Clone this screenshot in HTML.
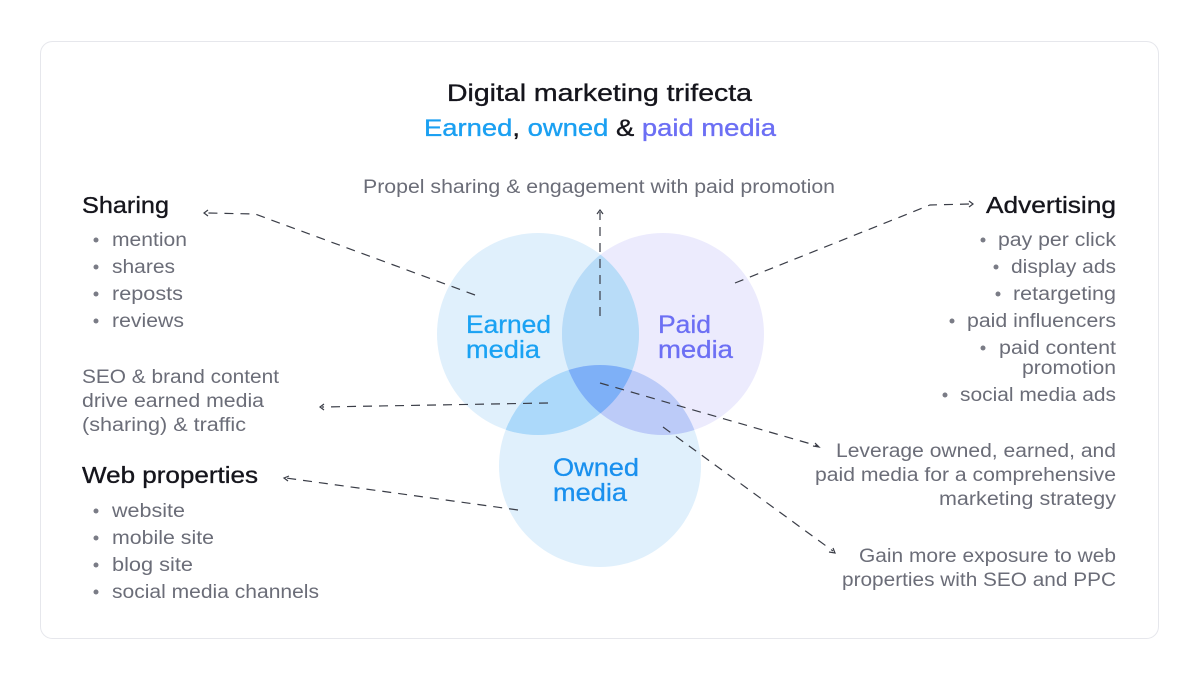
<!DOCTYPE html>
<html><head><meta charset="utf-8"><style>
html,body{margin:0;padding:0;background:#fff;}
svg{display:block;font-family:"Liberation Sans",sans-serif;}
.h{font-size:23px;fill:#15151c;stroke:#15151c;stroke-width:0.35;}
.t{font-size:19px;fill:#6b6d78;}
.c{font-size:25px;stroke-width:0.3;}
.d{stroke:#3a3d47;stroke-width:1.2;stroke-dasharray:9 7;fill:none;}
.a{stroke:#3a3d47;stroke-width:1.2;fill:none;}
</style></head><body>
<svg width="1200" height="681" viewBox="0 0 1200 681">
<rect x="40.5" y="41.5" width="1118" height="597" rx="12" fill="#fff" stroke="#e6e7ec"/>
<text x="447" y="101" textLength="305" lengthAdjust="spacingAndGlyphs" class="h" style="font-size:24px">Digital marketing trifecta</text>
<text x="424" y="136" textLength="352" lengthAdjust="spacingAndGlyphs" style="font-size:24px;stroke-width:0.35"><tspan fill="#1ba0f2" stroke="#1ba0f2">Earned</tspan><tspan fill="#15151c" stroke="#15151c">, </tspan><tspan fill="#1ba0f2" stroke="#1ba0f2">owned</tspan><tspan fill="#15151c" stroke="#15151c"> &amp; </tspan><tspan fill="#6c6ff4" stroke="#6c6ff4">paid media</tspan></text>
<text x="363" y="193" textLength="472" lengthAdjust="spacingAndGlyphs" class="t">Propel sharing &amp; engagement with paid promotion</text>

<circle cx="538" cy="334" r="101" fill="rgb(70,165,240)" fill-opacity="0.17"/>
<circle cx="663" cy="334" r="101" fill="rgb(130,120,240)" fill-opacity="0.15"/>
<circle cx="600" cy="466" r="101" fill="rgb(70,165,240)" fill-opacity="0.17"/>
<clipPath id="ce"><circle cx="538" cy="334" r="101"/></clipPath>
<clipPath id="cp"><circle cx="663" cy="334" r="101"/></clipPath>
<circle cx="663" cy="334" r="101" fill="#b8dcf8" clip-path="url(#ce)"/>
<circle cx="600" cy="466" r="101" fill="#acd9fa" clip-path="url(#ce)"/>
<circle cx="600" cy="466" r="101" fill="#bccbf8" clip-path="url(#cp)"/>
<g clip-path="url(#ce)"><circle cx="600" cy="466" r="101" fill="#7eb0f7" clip-path="url(#cp)"/></g>

<text x="466" y="333" textLength="85" lengthAdjust="spacingAndGlyphs" class="c" fill="#1aa2f3" stroke="#1aa2f3">Earned</text>
<text x="466" y="358" textLength="74" lengthAdjust="spacingAndGlyphs" class="c" fill="#1aa2f3" stroke="#1aa2f3">media</text>
<text x="658" y="333" textLength="53" lengthAdjust="spacingAndGlyphs" class="c" fill="#6c6ff4" stroke="#6c6ff4">Paid</text>
<text x="658" y="358" textLength="75" lengthAdjust="spacingAndGlyphs" class="c" fill="#6c6ff4" stroke="#6c6ff4">media</text>
<text x="553" y="476" textLength="86" lengthAdjust="spacingAndGlyphs" class="c" fill="#1a90ee" stroke="#1a90ee">Owned</text>
<text x="553" y="501" textLength="74" lengthAdjust="spacingAndGlyphs" class="c" fill="#1a90ee" stroke="#1a90ee">media</text>

<path class="d" d="M475 295 L255 214 L208 213"/>
<path class="a" d="M208 210 L204 213 L208 216"/>
<path class="d" d="M600 316 L600 212"/>
<path class="a" d="M597 214 L600 210 L603 214"/>
<path class="d" d="M735 283 L930 205 L970 204"/>
<path class="a" d="M969 201 L973 204 L969 207"/>
<path class="d" d="M548 403 L322 407"/>
<path class="a" d="M324 404 L320 407 L324 410"/>
<path class="d" d="M518 510 L286 478"/>
<path class="a" d="M289 476 L284 478 L288 481"/>
<path class="d" d="M600 383 L818 446"/>
<path class="a" d="M813 446 L819 447 L815 443"/>
<path class="d" d="M663 427 L833 551"/>
<path class="a" d="M829 552 L835 553 L833 548"/>

<text x="82" y="213" textLength="87" lengthAdjust="spacingAndGlyphs" class="h">Sharing</text>
<text x="112" y="246" textLength="75" lengthAdjust="spacingAndGlyphs" class="t">mention</text>
<text x="112" y="273" textLength="63" lengthAdjust="spacingAndGlyphs" class="t">shares</text>
<text x="112" y="300" textLength="71" lengthAdjust="spacingAndGlyphs" class="t">reposts</text>
<text x="112" y="327" textLength="72" lengthAdjust="spacingAndGlyphs" class="t">reviews</text>
<g fill="#7a7c86"><circle cx="96" cy="240" r="2.5"/><circle cx="96" cy="267" r="2.5"/><circle cx="96" cy="294" r="2.5"/><circle cx="96" cy="321" r="2.5"/></g>
<text x="82" y="383" textLength="197" lengthAdjust="spacingAndGlyphs" class="t">SEO &amp; brand content</text>
<text x="82" y="407" textLength="182" lengthAdjust="spacingAndGlyphs" class="t">drive earned media</text>
<text x="82" y="431" textLength="164" lengthAdjust="spacingAndGlyphs" class="t">(sharing) &amp; traffic</text>
<text x="82" y="483" textLength="176" lengthAdjust="spacingAndGlyphs" class="h">Web properties</text>
<text x="112" y="517" textLength="73" lengthAdjust="spacingAndGlyphs" class="t">website</text>
<text x="112" y="544" textLength="102" lengthAdjust="spacingAndGlyphs" class="t">mobile site</text>
<text x="112" y="571" textLength="81" lengthAdjust="spacingAndGlyphs" class="t">blog site</text>
<text x="112" y="598" textLength="207" lengthAdjust="spacingAndGlyphs" class="t">social media channels</text>
<g fill="#7a7c86"><circle cx="96" cy="511" r="2.5"/><circle cx="96" cy="538" r="2.5"/><circle cx="96" cy="565" r="2.5"/><circle cx="96" cy="592" r="2.5"/></g>

<text x="986" y="213" textLength="130" lengthAdjust="spacingAndGlyphs" class="h">Advertising</text>
<text x="998" y="246" textLength="118" lengthAdjust="spacingAndGlyphs" class="t">pay per click</text>
<text x="1011" y="273" textLength="105" lengthAdjust="spacingAndGlyphs" class="t">display ads</text>
<text x="1013" y="300" textLength="103" lengthAdjust="spacingAndGlyphs" class="t">retargeting</text>
<text x="967" y="327" textLength="149" lengthAdjust="spacingAndGlyphs" class="t">paid influencers</text>
<text x="999" y="354" textLength="117" lengthAdjust="spacingAndGlyphs" class="t">paid content</text>
<text x="1022" y="374" textLength="94" lengthAdjust="spacingAndGlyphs" class="t">promotion</text>
<text x="960" y="401" textLength="156" lengthAdjust="spacingAndGlyphs" class="t">social media ads</text>
<g fill="#7a7c86"><circle cx="983" cy="240" r="2.5"/><circle cx="996" cy="267" r="2.5"/><circle cx="998" cy="294" r="2.5"/><circle cx="952" cy="321" r="2.5"/><circle cx="983" cy="348" r="2.5"/><circle cx="945" cy="395" r="2.5"/></g>
<text x="836" y="457" textLength="280" lengthAdjust="spacingAndGlyphs" class="t">Leverage owned, earned, and</text>
<text x="815" y="481" textLength="301" lengthAdjust="spacingAndGlyphs" class="t">paid media for a comprehensive</text>
<text x="939" y="505" textLength="177" lengthAdjust="spacingAndGlyphs" class="t">marketing strategy</text>
<text x="859" y="562" textLength="257" lengthAdjust="spacingAndGlyphs" class="t">Gain more exposure to web</text>
<text x="842" y="586" textLength="274" lengthAdjust="spacingAndGlyphs" class="t">properties with SEO and PPC</text>
</svg>
</body></html>
